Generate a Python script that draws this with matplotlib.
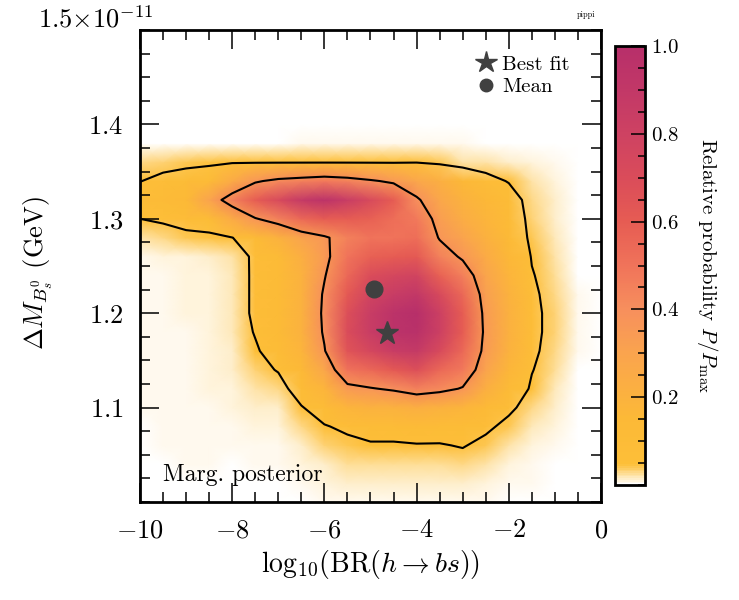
import numpy as np
import matplotlib
matplotlib.use("Agg")
import matplotlib.pyplot as plt
from matplotlib.colors import LinearSegmentedColormap
from matplotlib.lines import Line2D
from matplotlib.ticker import MultipleLocator

plt.rcParams["font.family"] = ["cmr10", "DejaVu Serif"]
plt.rcParams["mathtext.fontset"] = "cm"
plt.rcParams["axes.unicode_minus"] = False
plt.rcParams["axes.formatter.use_mathtext"] = True

# grid nodes: log10 BR(h->bs) and Delta M (units of 1e-11 GeV)
x_nodes = [-10.0, -9.5, -9.0, -8.5, -8.0, -7.5, -7.0, -6.5, -6.0, -5.5, -5.0,
           -4.5, -4.0, -3.5, -3.0, -2.5, -2.0, -1.5, -1.0, -0.5, 0.0]
y_nodes = [1.00, 1.02, 1.04, 1.06, 1.08, 1.10, 1.12, 1.14, 1.16, 1.18, 1.20, 1.22, 1.24,
           1.26, 1.28, 1.30, 1.32, 1.34, 1.36, 1.38, 1.40, 1.42, 1.44, 1.46, 1.48, 1.50]

# relative posterior P/Pmax, one list per x node, from y=1.00 up to y=1.38 (zero above)
post_columns = [
    [0.002, 0.002, 0.003, 0.003, 0.003, 0.004, 0.004, 0.004, 0.004, 0.004, 0.005, 0.005, 0.006, 0.007, 0.02, 0.06, 0.10, 0.058, 0.03, 0.0],
    [0.002, 0.003, 0.003, 0.004, 0.004, 0.005, 0.005, 0.005, 0.005, 0.006, 0.006, 0.006, 0.007, 0.008, 0.03, 0.07, 0.12, 0.08, 0.035, 0.0],
    [0.003, 0.003, 0.004, 0.004, 0.005, 0.006, 0.006, 0.007, 0.007, 0.007, 0.008, 0.008, 0.008, 0.009, 0.04, 0.09, 0.15, 0.10, 0.04, 0.0],
    [0.003, 0.003, 0.004, 0.005, 0.006, 0.007, 0.008, 0.008, 0.009, 0.01, 0.01, 0.01, 0.01, 0.012, 0.045, 0.10, 0.30, 0.12, 0.045, 0.001],
    [0.002, 0.002, 0.003, 0.004, 0.006, 0.008, 0.01, 0.012, 0.014, 0.016, 0.018, 0.018, 0.018, 0.02, 0.058, 0.25, 0.45, 0.25, 0.05, 0.002],
    [0.002, 0.003, 0.004, 0.006, 0.009, 0.014, 0.022, 0.035, 0.05, 0.065, 0.075, 0.075, 0.075, 0.075, 0.12, 0.37, 0.60, 0.36, 0.05, 0.002],
    [0.002, 0.003, 0.004, 0.006, 0.01, 0.015, 0.03, 0.065, 0.10, 0.11, 0.11, 0.11, 0.11, 0.12, 0.20, 0.45, 0.72, 0.42, 0.05, 0.003],
    [0.003, 0.005, 0.008, 0.015, 0.03, 0.055, 0.10, 0.15, 0.18, 0.20, 0.20, 0.20, 0.20, 0.22, 0.30, 0.55, 0.88, 0.45, 0.05, 0.004],
    [0.004, 0.008, 0.015, 0.035, 0.055, 0.10, 0.18, 0.28, 0.37, 0.40, 0.41, 0.40, 0.37, 0.34, 0.36, 0.60, 0.95, 0.48, 0.05, 0.005],
    [0.006, 0.012, 0.025, 0.04, 0.075, 0.18, 0.34, 0.50, 0.65, 0.70, 0.68, 0.62, 0.55, 0.50, 0.45, 0.60, 0.85, 0.45, 0.05, 0.005],
    [0.006, 0.012, 0.025, 0.05, 0.10, 0.20, 0.37, 0.55, 0.75, 0.85, 0.85, 0.78, 0.70, 0.58, 0.50, 0.58, 0.72, 0.40, 0.05, 0.005],
    [0.006, 0.012, 0.025, 0.05, 0.10, 0.20, 0.40, 0.62, 0.85, 0.95, 0.95, 0.85, 0.75, 0.60, 0.50, 0.52, 0.60, 0.35, 0.05, 0.005],
    [0.006, 0.012, 0.025, 0.055, 0.11, 0.22, 0.45, 0.68, 0.88, 0.98, 1.00, 0.90, 0.78, 0.62, 0.52, 0.48, 0.40, 0.28, 0.055, 0.005],
    [0.006, 0.012, 0.025, 0.055, 0.10, 0.20, 0.42, 0.55, 0.72, 0.82, 0.82, 0.72, 0.58, 0.45, 0.37, 0.33, 0.28, 0.22, 0.04, 0.005],
    [0.007, 0.015, 0.03, 0.065, 0.10, 0.18, 0.37, 0.48, 0.55, 0.60, 0.60, 0.55, 0.46, 0.36, 0.30, 0.24, 0.20, 0.16, 0.02, 0.004],
    [0.005, 0.01, 0.02, 0.04, 0.075, 0.14, 0.22, 0.30, 0.34, 0.35, 0.34, 0.32, 0.29, 0.25, 0.21, 0.18, 0.16, 0.09, 0.02, 0.003],
    [0.003, 0.006, 0.01, 0.02, 0.04, 0.075, 0.12, 0.17, 0.20, 0.21, 0.21, 0.20, 0.18, 0.16, 0.14, 0.12, 0.10, 0.055, 0.015, 0.003],
    [0.002, 0.004, 0.006, 0.01, 0.018, 0.03, 0.05, 0.063, 0.075, 0.08, 0.08, 0.075, 0.065, 0.055, 0.04, 0.035, 0.03, 0.02, 0.008, 0.002],
    [0.001, 0.002, 0.003, 0.005, 0.008, 0.012, 0.018, 0.025, 0.03, 0.035, 0.035, 0.03, 0.026, 0.022, 0.018, 0.015, 0.012, 0.008, 0.004, 0.001],
    [0.0, 0.001, 0.001, 0.001, 0.002, 0.002, 0.003, 0.003, 0.004, 0.004, 0.004, 0.004, 0.003, 0.003, 0.003, 0.002, 0.002, 0.002, 0.001, 0.0],
    [0.0] * 20,
]

contour_levels = [0.06, 0.38]   # 95% and 68% credible region boundaries
best_fit = (-4.64, 1.179)
post_mean = (-4.92, 1.226)

cmap = LinearSegmentedColormap.from_list("pippi_post", [
    (0.0, "#ffffff"), (0.045, "#fdbf38"), (0.15, "#fcb937"), (0.3, "#faa44e"),
    (0.4, "#f78f5d"), (0.5, "#f0735a"), (0.6, "#e65c53"), (0.7, "#da4c5a"),
    (0.8, "#ce4262"), (0.9, "#c23867"), (1.0, "#b72f6a")])

Z = np.zeros((len(y_nodes), len(x_nodes)))
for j, col in enumerate(post_columns):
    Z[:len(col), j] = col
X, Y = np.meshgrid(x_nodes, y_nodes)

fig = plt.figure(figsize=(7.39, 6.0), dpi=100)
ax = fig.add_axes([140 / 739, 98 / 600, 461 / 739, 472 / 600])
cax = fig.add_axes([615 / 739, 115 / 600, 30 / 739, 439 / 600])

mesh = ax.pcolormesh(X, Y, Z, shading="gouraud", cmap=cmap, vmin=0, vmax=1, zorder=1)
ax.contour(x_nodes, y_nodes, Z, levels=contour_levels, colors="k", linewidths=1.5, zorder=2)

mk = "#404040"
ax.plot(*best_fit, marker="*", ms=17, color=mk, mec=mk, ls="none", zorder=4)
ax.plot(*post_mean, marker="o", ms=12, color=mk, mec=mk, ls="none", zorder=4)

ax.set_xlim(-10, 0)
ax.set_ylim(1.0, 1.5)
ax.set_xticks([-10, -8, -6, -4, -2, 0])
ax.set_xticklabels([r"$-10$", r"$-8$", r"$-6$", r"$-4$", r"$-2$", r"$0$"])
ax.set_yticks([1.1, 1.2, 1.3, 1.4])
ax.set_yticklabels([r"$1.1$", r"$1.2$", r"$1.3$", r"$1.4$"])
ax.xaxis.set_minor_locator(MultipleLocator(0.5))
ax.yaxis.set_minor_locator(MultipleLocator(0.025))
ax.tick_params(which="both", direction="in", top=True, right=True, width=1.1)
ax.tick_params(which="major", length=14, labelsize=19)
ax.tick_params(which="minor", length=7)
ax.tick_params(axis="x", pad=12)
ax.tick_params(axis="y", pad=12)
for s in ax.spines.values():
    s.set_linewidth(2)

ax.set_xlabel(r"$\mathrm{log}_{10}(\mathrm{BR}(h \to bs))$", fontsize=20)
ax.xaxis.set_label_coords(0.5, -0.133)
ax.xaxis.label.set_va("center")
ax.set_ylabel(r"$\Delta M_{B_s^0}$ (GeV)", fontsize=19)
ax.yaxis.set_label_coords(-0.221, 0.485)
ax.yaxis.label.set_va("center")

fig.text(38 / 739, 573 / 600, r"$1.5{\times}10^{-11}$", fontsize=19, ha="left", va="baseline")
fig.text(586 / 739, 585 / 600, "pippi", fontsize=6, ha="center", va="center")
ax.text(0.05, 0.045, "Marg. posterior", transform=ax.transAxes, fontsize=17, ha="left", va="baseline")

handles = [Line2D([], [], marker="*", ms=16, color=mk, ls="none"),
           Line2D([], [], marker="o", ms=9, color=mk, ls="none")]
ax.legend(handles, ["Best fit", "Mean"], loc="upper left", bbox_to_anchor=(0.727, 0.947),
          borderpad=0, borderaxespad=0, frameon=False, fontsize=15, handlelength=1.0,
          handletextpad=0.3, labelspacing=0.2)

cb = fig.colorbar(mesh, cax=cax)
cb.set_ticks([0.2, 0.4, 0.6, 0.8, 1.0])
cb.set_ticklabels([r"$0.2$", r"$0.4$", r"$0.6$", r"$0.8$", r"$1.0$"])
cax.yaxis.set_minor_locator(MultipleLocator(0.05))
cax.tick_params(which="both", direction="in", width=1.1, labelsize=15)
cax.tick_params(which="major", length=10, pad=4)
cax.tick_params(which="minor", length=5)
cb.outline.set_linewidth(2)
cb.set_label(r"Relative probability $P/P_\mathrm{max}$", fontsize=15, rotation=-90)
cax.yaxis.set_label_coords(3.1, 0.5)
cax.yaxis.label.set_va("center")

fig.savefig("out.png", dpi=100)
